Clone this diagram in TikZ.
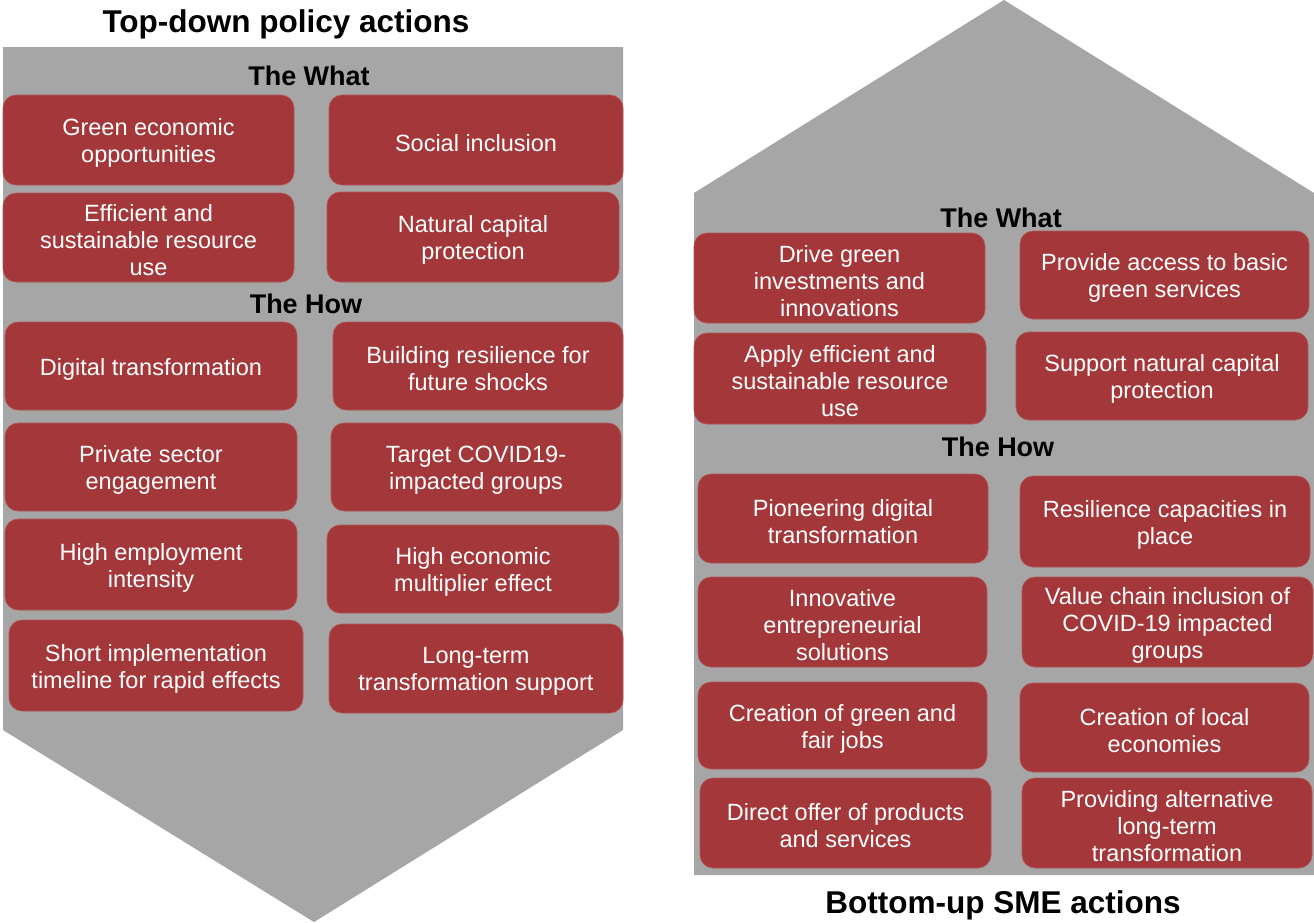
\documentclass[tikz,border=0pt]{standalone}
\usepackage{fontspec}
\setmainfont{Liberation Sans}
\definecolor{panelgray}{RGB}{166,166,166}
\definecolor{boxred}{RGB}{164,55,57}
\tikzset{
  redbox/.style={fill=boxred, draw=boxred!85!white, line width=0.6pt, rounded corners=13pt, inner sep=0pt},
  boxtext/.style={text=white, align=center, inner sep=0pt, font=\fontsize{23.5}{27}\selectfont},
  headlbl/.style={anchor=base, font=\bfseries\fontsize{27}{32}\selectfont, text=black, inner sep=0pt},
  titlelbl/.style={anchor=base, font=\bfseries\fontsize{31.5}{37}\selectfont, text=black, inner sep=0pt},
}
\newcommand{\rbox}[6]{% name, x1, y1, x2, y2, text
  \node[redbox, minimum width={(#4)-(#2)}, minimum height={(#5)-(#3)}] (#1) at ({((#2)+(#4))/2},{((#3)+(#5))/2}) {};
  \node[boxtext] (#1t) at ([yshift=-3pt]#1.center) {#6};}
\begin{document}
\begin{tikzpicture}[x=1pt,y=-1pt]
\useasboundingbox (0,0) rectangle (1314,922);
% panels
\fill[panelgray] (3,47) -- (623,47) -- (623,730) -- (314,922) -- (3,730) -- cycle;
\fill[panelgray] (694,875) -- (694,193) -- (1004,0) -- (1314,193) -- (1314,875) -- cycle;
% titles
\node[titlelbl] (ttop) at (286,32) {Top-down policy actions};
\node[titlelbl] (tbot) at (1003,913) {Bottom-up SME actions};
\node[headlbl] (lwhat) at (309,85) {The What};
\node[headlbl] (lhow) at (306,313) {The How};
\node[headlbl] (rwhat) at (1001,227) {The What};
\node[headlbl] (rhow) at (998,456) {The How};
% left boxes
\rbox{l1}{3}{95}{294}{185}{Green economic\\opportunities}
\rbox{l2}{329}{95}{623}{185}{Social inclusion}
\rbox{l3}{3}{193}{294}{282}{Efficient and\\sustainable resource\\use}
\rbox{l4}{327}{192}{619}{282}{Natural capital\\protection}
\rbox{l5}{5}{322}{297}{410}{Digital transformation}
\rbox{l6}{333}{322}{623}{410}{Building resilience for\\future shocks}
\rbox{l7}{5}{423}{297}{511}{Private sector\\engagement}
\rbox{l8}{331}{423}{621}{511}{Target COVID19-\\impacted groups}
\rbox{l9}{5}{519}{297}{610}{High employment\\intensity}
\rbox{l10}{327}{525}{619}{613}{High economic\\multiplier effect}
\rbox{l11}{9}{620}{303}{711}{Short implementation\\timeline for rapid effects}
\rbox{l12}{329}{624}{623}{713}{Long-term\\transformation support}
% right boxes
\rbox{r1}{694}{233}{985}{323}{Drive green\\investments and\\innovations}
\rbox{r2}{1020}{231}{1309}{319}{Provide access to basic\\green services}
\rbox{r3}{694}{333}{986}{424}{Apply efficient and\\sustainable resource\\use}
\rbox{r4}{1016}{332}{1308}{420}{Support natural capital\\protection}
\rbox{r5}{698}{474}{988}{563}{Pioneering digital\\transformation}
\rbox{r6}{1020}{476}{1310}{567}{Resilience capacities in\\place}
\rbox{r7}{698}{577}{987}{667}{Innovative\\entrepreneurial\\solutions}
\rbox{r8}{1022}{577}{1313}{667}{Value chain inclusion of\\COVID-19 impacted\\groups}
\rbox{r9}{698}{682}{987}{769}{Creation of green and\\fair jobs}
\rbox{r10}{1020}{683}{1309}{772}{Creation of local\\economies}
\rbox{r11}{700}{778}{991}{868}{Direct offer of products\\and services}
\rbox{r12}{1022}{778}{1312}{868}{Providing alternative\\long-term\\transformation}
\end{tikzpicture}
\end{document}
